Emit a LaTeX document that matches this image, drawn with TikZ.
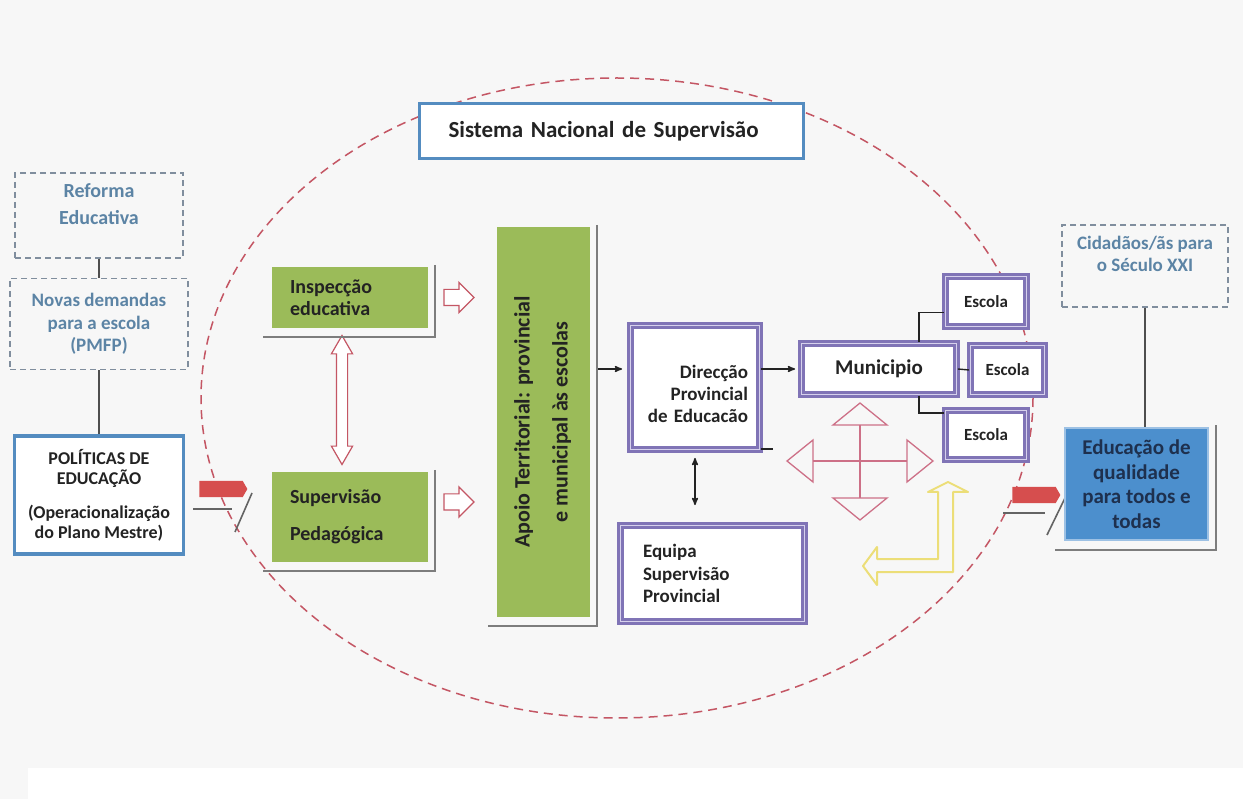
\documentclass[tikz,border=0pt]{standalone}
\usepackage{fontspec}
\usepackage{graphicx}
\setmainfont{Carlito}
\usetikzlibrary{calc,positioning,arrows,shapes.arrows}

\definecolor{cBack}{RGB}{247,247,247}
\definecolor{cGreen}{RGB}{155,187,89}
\definecolor{cPurple}{RGB}{128,116,182}
\definecolor{cLilac}{RGB}{214,209,236}
\definecolor{cSteel}{RGB}{84,140,192}
\definecolor{cDash}{RGB}{128,142,158}
\definecolor{cDashText}{RGB}{92,132,165}
\definecolor{cRosy}{RGB}{196,86,100}
\definecolor{cPink}{RGB}{205,112,135}
\definecolor{cRedFill}{RGB}{214,78,78}
\definecolor{cSkyFill}{RGB}{76,143,205}
\definecolor{cSkyText}{RGB}{30,48,78}
\definecolor{cStraw}{RGB}{236,222,120}
\definecolor{cShelf}{RGB}{125,125,125}
\definecolor{cInk}{RGB}{35,35,35}

\tikzset{
>=stealth',
  boldtext/.style 2 args={font=\bfseries\fontsize{#1}{#2}\selectfont},
  dashbox/.style={
    rectangle,
    draw=cDash, line width=1.4pt,
    dash pattern=on 6pt off 4pt,
    text=cDashText,
    align=center,
    inner sep=0pt},
  bluebox/.style={
    rectangle,
    draw=cSteel, line width=3pt,
    fill=white,
    text=cInk,
    inner sep=0pt},
  greenbox/.style={
    rectangle,
    fill=cGreen,
    text=cInk,
    inner sep=0pt},
  framebox/.style={
    rectangle,
    draw=cPurple, line width=2.8pt,
    double=cLilac, double distance=1.4pt,
    fill=white,
    text=cInk,
    inner sep=0pt},
  skybox/.style={
    rectangle,
    fill=cSkyFill,
    draw=cSkyFill!55!white, line width=1.5pt,
    text=cSkyText,
    align=center,
    inner sep=0pt},
  hollowright/.style={
    single arrow,
    draw=cRosy, fill=white, line width=1.2pt,
    inner xsep=0pt, inner ysep=7.5pt,
    single arrow head extend=7pt,
    minimum height=30pt},
  hollowboth/.style={
    double arrow,
    draw=cRosy, fill=white, line width=1.2pt,
    inner xsep=0pt, inner ysep=5pt,
    double arrow head extend=5pt,
    double arrow tip angle=60,
    minimum height=129pt},
  redarrow/.style={
    single arrow,
    fill=cRedFill,
    inner xsep=0pt, inner ysep=8pt,
    single arrow head extend=0pt,
    single arrow tip angle=120,
    minimum height=48pt},
  shelf/.style={draw=cShelf, line width=2pt},
  line/.style={draw=cInk!80, line width=1.8pt},
  tree/.style={draw=cInk, line width=1.4pt},
  tickline/.style={draw=cShelf!80!black, line width=1.6pt},
  pointer/.style={draw=cInk, line width=1.5pt, ->},
  pinkline/.style={draw=cPink, line width=1.3pt},
  strawline/.style={draw=cStraw, line width=2pt, line join=round},
  oval/.style={draw=cRosy, line width=1.5pt, dash pattern=on 9pt off 6pt},
}

\begin{document}
\begin{tikzpicture}[x=1pt, y=-1pt, node distance=19pt]
\useasboundingbox (0,0) rectangle (1243,799);
\fill[cBack] (0,0) rectangle (1243,799);
\fill[white] (28,768) rectangle (1243,799);

% the national system
\draw[oval] (617,398) ellipse [x radius=416, y radius=320];
\node[bluebox, boldtext={23}{27}, minimum width=384pt, minimum height=55pt,
  text width=326pt, align=left] (sns) at (611.5,131) {Sistema Nacional de Supervisão};

% policy column
\node[dashbox, boldtext={20}{27}, minimum width=168pt, minimum height=85pt,
  text depth=23pt] (reforma) at (99,215.5) {Reforma\\Educativa};
\node[dashbox, boldtext={19}{22.5}, minimum width=178pt, minimum height=91pt,
  below=19pt of reforma] (novas) {Novas demandas\\para a escola\\(PMFP)};
\node[bluebox, line width=3.5pt, boldtext={18}{20}, align=center,
  minimum width=169pt, minimum height=118pt,
  below=64pt of novas] (politicas) {POLÍTICAS DE\\EDUCAÇÃO\\[14pt](Operacionalização\\do Plano Mestre)};
\draw[line] (reforma) -- (novas);
\draw[line] (novas) -- (politicas);

\node[redarrow] (leftpush) at (221,489) {};
\draw[tickline] ($(leftpush.center)+(-28,20)$) -- ++(39,0);
\draw[tickline] ($(leftpush.center)+(14,43)$) -- ($(leftpush.center)+(31,4)$);

% supervision
\node[greenbox, boldtext={20}{22}, minimum width=156pt, minimum height=61pt,
  align=left, text width=120pt] (insp) at (350,297.5) {Inspecção\\educativa};
\node[greenbox, boldtext={20}{24}, minimum width=156pt, minimum height=90pt,
  align=left, text width=120pt] (superv) at (350,517) {Supervisão\\[13pt]Pedagógica};
\node[greenbox, boldtext={22}{26}, minimum width=93pt, minimum height=390pt] (apoio) at (543.5,422)
  {\rotatebox{90}{\begin{tabular}{@{}c@{}}Apoio Territorial: provincial\\[12pt]e municipal às escolas\end{tabular}}};

\path (insp.east) -- node[hollowright, pos=0.39, sloped] (inspgo) {} (insp.east -| apoio.west);
\path ($(superv.east)+(0,-15)$) -- node[hollowright, pos=0.39, sloped] (supervgo) {}
  ($(superv.east -| apoio.west)+(0,-15)$);
\path ($(insp.south)+(-8,0)$) -- node[hollowboth, sloped] (twoway) {} ($(superv.north)+(-8,0)$);

% province, municipality, schools
\node[framebox, boldtext={19}{22}, minimum width=129pt, minimum height=124pt,
  align=right, text width=106pt, text depth=31pt] (direc) at (695,387.5) {Direcção\\Provincial\\de Educacão};
\node[framebox, boldtext={19}{22.5}, minimum width=184pt, minimum height=96pt,
  align=left, text width=139pt] (equipa) at (712.5,573.5) {Equipa\\Supervisão\\Provincial};
\node[framebox, boldtext={21}{25}, minimum width=155pt, minimum height=51pt] (mun) at (879,369) {Municipio};
\node[framebox, boldtext={17}{20}, minimum width=81pt, minimum height=50pt] (esc1) at (986,301.5) {Escola};
\node[framebox, boldtext={17}{20}, minimum width=74pt, minimum height=49pt] (esc2) at (1007.5,370) {Escola};
\node[framebox, boldtext={17}{20}, minimum width=81pt, minimum height=49pt] (esc3) at (986,435) {Escola};

\draw[pointer, shorten <=8pt, shorten >=7pt] (apoio.east |- mun.west) -- (direc.west |- mun.west);
\draw[pointer, shorten >=5pt] (direc.east |- mun.west) -- (mun.west);
\draw[pointer, <->, shorten <=7pt, shorten >=19pt] (direc.south) -- (direc.south |- equipa.north);
\draw[tree] ($(direc.south east)+(0,-2)$) -- ++(12,0);
\draw[tree] ($(mun.north)+(40,0)$) |- ($(esc1.west)+(0,11)$);
\draw[tree] (mun.east) -- (esc2.west);
\draw[tree] ($(mun.south)+(40,0)$) |- ($(esc3.west)+(0,-22)$);

% four way arrow
\coordinate (hub) at (860,461);
\draw[pinkline] ($(hub)+(-47,0)$) -- ($(hub)+(47,0)$);
\draw[pinkline] ($(hub)+(0,-36)$) -- ($(hub)+(0,37)$);
\draw[pinkline] ($(hub)+(-73,0)$) -- ($(hub)+(-47,-21)$) -- ($(hub)+(-47,21)$) -- cycle;
\draw[pinkline] ($(hub)+(73,0)$) -- ($(hub)+(47,-21)$) -- ($(hub)+(47,21)$) -- cycle;
\draw[pinkline] ($(hub)+(0,-58)$) -- ($(hub)+(-27,-36)$) -- ($(hub)+(27,-36)$) -- cycle;
\draw[pinkline] ($(hub)+(0,59)$) -- ($(hub)+(-27,37)$) -- ($(hub)+(27,37)$) -- cycle;

% yellow return arrow
\draw[strawline] (863,566) -- (877,547) -- (877,559) -- (938,559) -- (938,492) -- (928,492)
  -- (948,482) -- (968,492) -- (953,492) -- (953,572) -- (877,572) -- (877,585) -- cycle;

% outcome
\node[redarrow] (rightpush) at (1034,495) {};
\draw[tickline] ($(rightpush.center)+(-31,18)$) -- ++(42,0);
\draw[tickline] ($(rightpush.center)+(13,40)$) -- ($(rightpush.center)+(31,3)$);

\node[skybox, boldtext={21}{24.5}, minimum width=143pt, minimum height=112pt] (educ) at (1136.5,484)
  {Educação de\\qualidade\\para todos e\\todas};
\node[dashbox, boldtext={19}{22}, minimum width=166pt, minimum height=82pt,
  text depth=25pt] (cidadaos) at (1145,266) {Cidadãos/ãs para\\o Século XXI};
\draw[line] (cidadaos.south) -- (cidadaos.south |- educ.north);

\foreach \n in {insp,superv,apoio,educ}
  \draw[shelf] ($(\n.north east)+(7,-2)$) |- ($(\n.south west)+(-9,9)$);
\end{tikzpicture}
\end{document}
